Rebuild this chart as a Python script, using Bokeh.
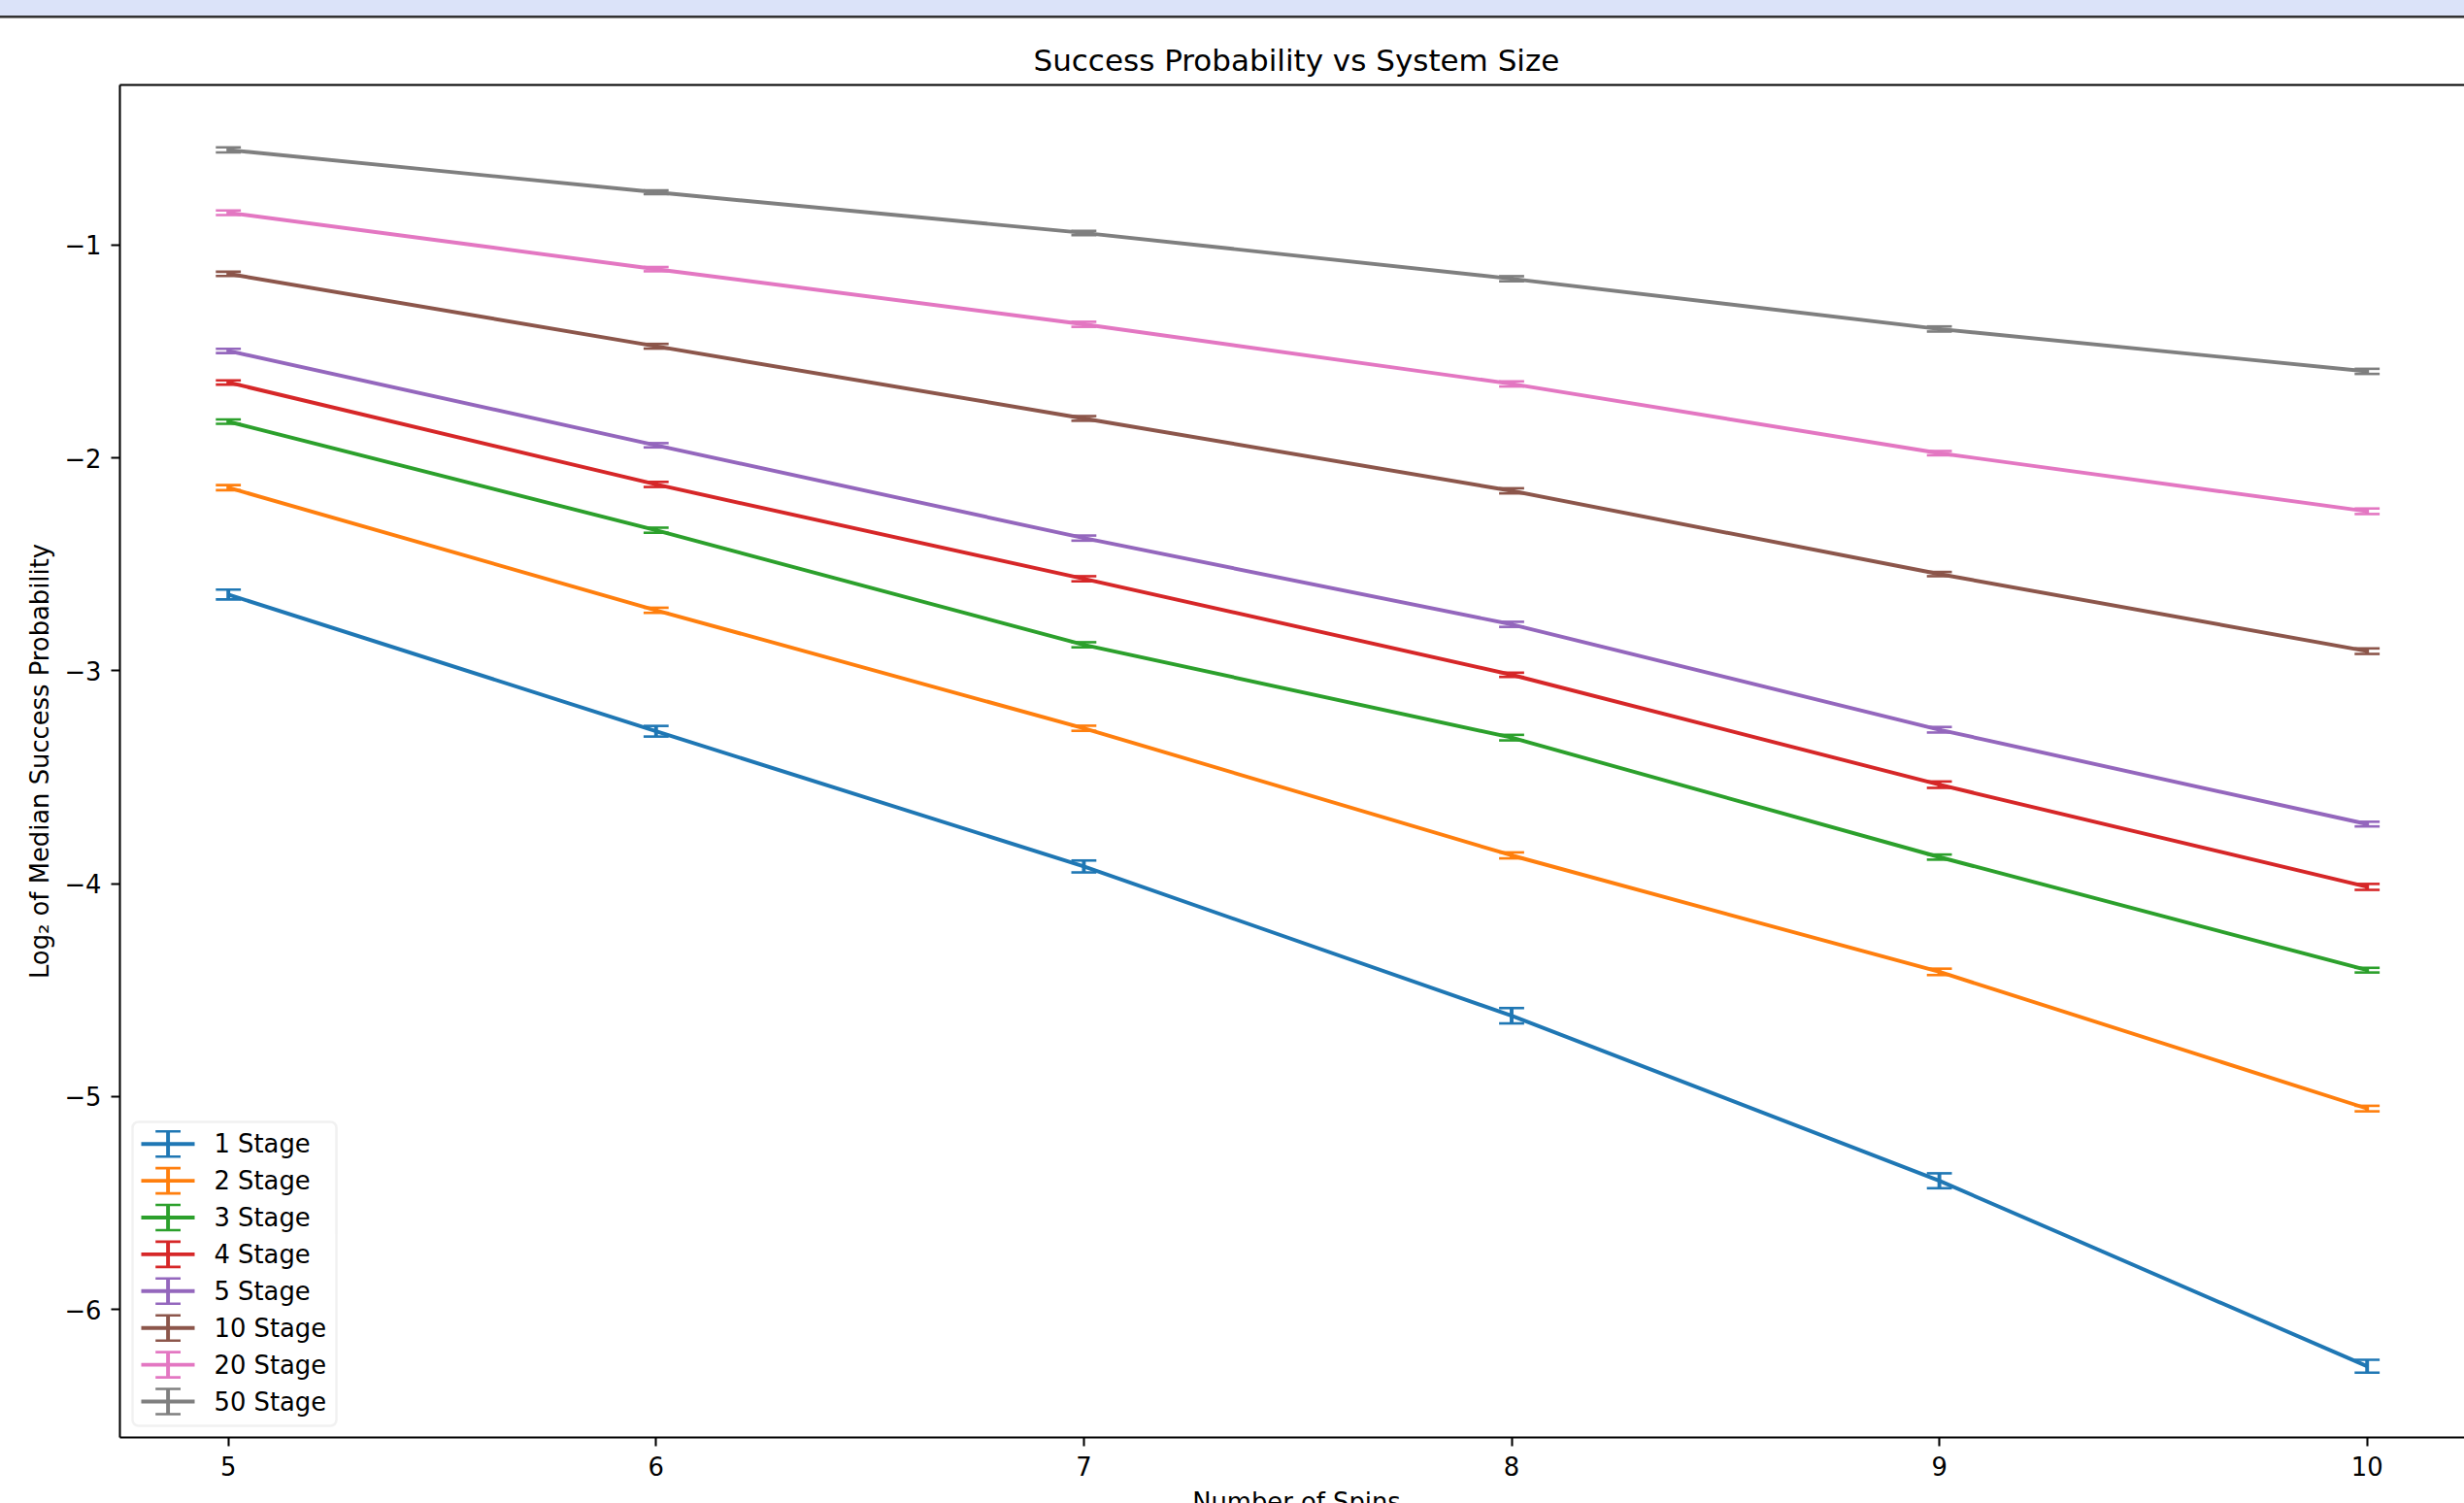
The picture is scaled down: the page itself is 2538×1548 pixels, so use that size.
from bokeh.plotting import figure
from bokeh.models import (Range1d, LinearAxis, FixedTicker, CustomJSTickFormatter, Whisker,
                          TeeHead, ColumnDataSource, BoxAnnotation, Div)
from bokeh.layouts import column
from bokeh.core.properties import value
from bokeh.embed import file_html
from bokeh.resources import INLINE

# ---------------- data ----------------
spins = [5, 6, 7, 8, 9, 10]
stage_labels = ["1 Stage", "2 Stage", "3 Stage", "4 Stage", "5 Stage",
                "10 Stage", "20 Stage", "50 Stage"]
colors = ["#1f77b4", "#ff7f0e", "#2ca02c", "#d62728", "#9467bd",
          "#8c564b", "#e377c2", "#7f7f7f"]

stage_1 = [-2.642, -3.284, -3.919, -4.620, -5.395, -6.266]
stage_2 = [-2.140, -2.716, -3.270, -3.867, -4.414, -5.056]
stage_3 = [-1.830, -2.340, -2.878, -3.314, -3.875, -4.406]
stage_4 = [-1.646, -2.125, -2.568, -3.019, -3.535, -4.015]
stage_5 = [-1.498, -1.941, -2.377, -2.782, -3.277, -3.720]
stage_10 = [-1.136, -1.476, -1.815, -2.155, -2.546, -2.908]
stage_20 = [-0.849, -1.114, -1.373, -1.653, -1.978, -2.251]
stage_50 = [-0.554, -0.753, -0.944, -1.159, -1.395, -1.594]

err_1 = [0.023, 0.025, 0.028, 0.036, 0.035, 0.030]
err_2 = [0.012, 0.012, 0.012, 0.014, 0.015, 0.013]
err_3 = [0.010, 0.012, 0.012, 0.013, 0.012, 0.011]
err_4 = [0.010, 0.012, 0.012, 0.010, 0.015, 0.014]
err_5 = [0.010, 0.010, 0.012, 0.012, 0.013, 0.011]
err_10 = [0.010, 0.011, 0.011, 0.012, 0.010, 0.013]
err_20 = [0.011, 0.010, 0.012, 0.012, 0.010, 0.013]
err_50 = [0.012, 0.009, 0.010, 0.012, 0.012, 0.012]

x_ticks = [5, 6, 7, 8, 9, 10]
y_ticks = [-6, -5, -4, -3, -2, -1]

title_text = "Success Probability vs System Size"
x_label = "Number of Spins"
y_label = "Log\u2082 of Median Success Probability"

series = [stage_1, stage_2, stage_3, stage_4, stage_5, stage_10, stage_20, stage_50]
errors = [err_1, err_2, err_3, err_4, err_5, err_10, err_20, err_50]

# ---------------- layout ----------------
FONT = "DejaVu Sans"
FS = "25.8px"
TITLE_FS = "31px"
PAGE_W, PAGE_H = 2538, 1548
STRIP_H = 19
XLABEL_H = 16
BORDER_L, BORDER_T, BORDER_B = 123, 68, 52
FRAME_W = PAGE_W - BORDER_L
FRAME_H = 1393
FULL_FRAME_W = 2425          # the reference frame runs past the right edge of the page
FRAME_CENTER_X = BORDER_L + FULL_FRAME_W / 2
TITLE_W = 543
LW = 3.9
CAP_W = 2.6
CAP_SIZE = 25.8
AX_W = 2.07

p = figure(frame_width=FRAME_W, frame_height=FRAME_H,
           min_border_left=BORDER_L, min_border_right=0,
           min_border_top=BORDER_T, min_border_bottom=BORDER_B,
           x_range=Range1d(4.7465, 10.2276), y_range=Range1d(-6.6005, -0.249),
           x_axis_type=None, y_axis_type=None, title=title_text,
           output_backend="svg", toolbar_location=None, margin=(0, 0, 0, 0))
p.outline_line_color = None
p.background_fill_color = "white"
p.border_fill_color = "white"
p.title.text_font = FONT
p.title.text_font_size = TITLE_FS
p.title.text_font_style = "normal"
p.title.text_color = "black"
p.title.align = "left"
p.title.offset = FULL_FRAME_W / 2 - TITLE_W / 2
p.title.standoff = 15

p.extra_x_ranges = {"px": Range1d(0, FRAME_W)}
p.extra_y_ranges = {"px": Range1d(0, FRAME_H)}


def style_axis(ax):
    ax.axis_line_width = AX_W
    ax.axis_line_color = "black"
    ax.major_tick_line_width = AX_W
    ax.major_tick_line_color = "black"
    ax.major_tick_out = 9
    ax.major_tick_in = 0
    ax.minor_tick_out = 0
    ax.minor_tick_in = 0
    ax.minor_tick_line_color = None
    ax.major_label_text_font = FONT
    ax.major_label_text_font_size = FS
    ax.major_label_text_color = "black"


xaxis = LinearAxis(ticker=FixedTicker(ticks=x_ticks))
style_axis(xaxis)
xaxis.major_label_standoff = 10
p.add_layout(xaxis, "below")

yaxis = LinearAxis(ticker=FixedTicker(ticks=y_ticks),
                   formatter=CustomJSTickFormatter(
                       code="return (tick < 0 ? '\\u2212' : '') + Math.abs(tick).toFixed(0);"))
style_axis(yaxis)
yaxis.major_label_standoff = 10
yaxis.axis_label = y_label
yaxis.axis_label_text_font = FONT
yaxis.axis_label_text_font_size = FS
yaxis.axis_label_text_font_style = "normal"
yaxis.axis_label_text_color = "black"
yaxis.axis_label_standoff = 7
p.add_layout(yaxis, "left")

top_axis = LinearAxis(ticker=FixedTicker(ticks=[]))
style_axis(top_axis)
top_axis.major_tick_out = 0
top_axis.major_label_standoff = 0
p.add_layout(top_axis, "above")

# ---------------- series ----------------
for ys, es, c in zip(series, errors, colors):
    p.line(spins, ys, line_color=c, line_width=LW)
    src = ColumnDataSource(dict(base=spins,
                                upper=[y + e for y, e in zip(ys, es)],
                                lower=[y - e for y, e in zip(ys, es)]))
    w = Whisker(source=src, base="base", upper="upper", lower="lower", dimension="height",
                line_color=c, line_width=LW, level="annotation",
                upper_head=TeeHead(size=CAP_SIZE, line_color=c, line_width=CAP_W),
                lower_head=TeeHead(size=CAP_SIZE, line_color=c, line_width=CAP_W))
    p.add_layout(w)

# ---------------- legend (drawn in frame pixel coordinates) ----------------
LEG_LEFT, LEG_RIGHT, LEG_BOTTOM, LEG_TOP = 13, 223, 12, 325
ROW0, ROW_STEP = 302.3, 37.9
LINE_X0, LINE_X1, BAR_X, TEXT_X = 22, 77, 49.6, 97
BAR_HALF, CAP_HALF = 13, 12.9

p.add_layout(BoxAnnotation(left=LEG_LEFT, right=LEG_RIGHT, bottom=LEG_BOTTOM, top=LEG_TOP,
                           left_units="screen", right_units="screen",
                           bottom_units="screen", top_units="screen",
                           fill_color="white", fill_alpha=0.8,
                           line_color="#d0d0d0", line_width=2.5, border_radius=6,
                           level="underlay"))

rows = [ROW0 - ROW_STEP * i for i in range(len(stage_labels))]
p.segment(x0=[LINE_X0] * len(rows), y0=rows, x1=[LINE_X1] * len(rows), y1=rows,
          line_color=colors, line_width=LW, x_range_name="px", y_range_name="px")
p.segment(x0=[BAR_X] * len(rows), y0=[r - BAR_HALF for r in rows],
          x1=[BAR_X] * len(rows), y1=[r + BAR_HALF for r in rows],
          line_color=colors, line_width=LW, x_range_name="px", y_range_name="px")
for sgn in (-1, 1):
    p.segment(x0=[BAR_X - CAP_HALF] * len(rows), y0=[r + sgn * BAR_HALF for r in rows],
              x1=[BAR_X + CAP_HALF] * len(rows), y1=[r + sgn * BAR_HALF for r in rows],
              line_color=colors, line_width=CAP_W, x_range_name="px", y_range_name="px")
p.text(x=[TEXT_X] * len(rows), y=rows, text=stage_labels,
       text_font=value(FONT), text_font_size=FS, text_color="black",
       text_align="left", text_baseline="middle", x_range_name="px", y_range_name="px")

# ---------------- top strip ----------------
BLUE = "#dbe3f9"
strip = Div(text="", width=PAGE_W, height=STRIP_H, margin=(0, 0, 0, 0),
            styles={"background": f"linear-gradient(to bottom, {BLUE} 0px, {BLUE} 16px, "
                                  f"#333333 16px, #333333 18px, #888888 18px, #888888 19px)"})

# ---------------- x-axis label (cut by the page bottom, as in the reference) ----------------
pad = 2 * FRAME_CENTER_X - PAGE_W
xlabel_div = Div(
    text=(f'<div style="box-sizing:border-box; width:{PAGE_W}px; padding-left:{pad}px; '
          f'text-align:center; white-space:nowrap; margin:0; line-height:normal; '
          f'font-family:\'DejaVu Sans\'; font-size:{FS}; color:black;">{x_label}</div>'),
    width=PAGE_W, height=XLABEL_H, margin=(0, 0, 0, 0),
    styles={"overflow": "hidden", "background": "white"})

layout = column(strip, p, xlabel_div, spacing=0, margin=(0, 0, 0, 0))
open("out.html", "w").write(file_html(layout, INLINE))
